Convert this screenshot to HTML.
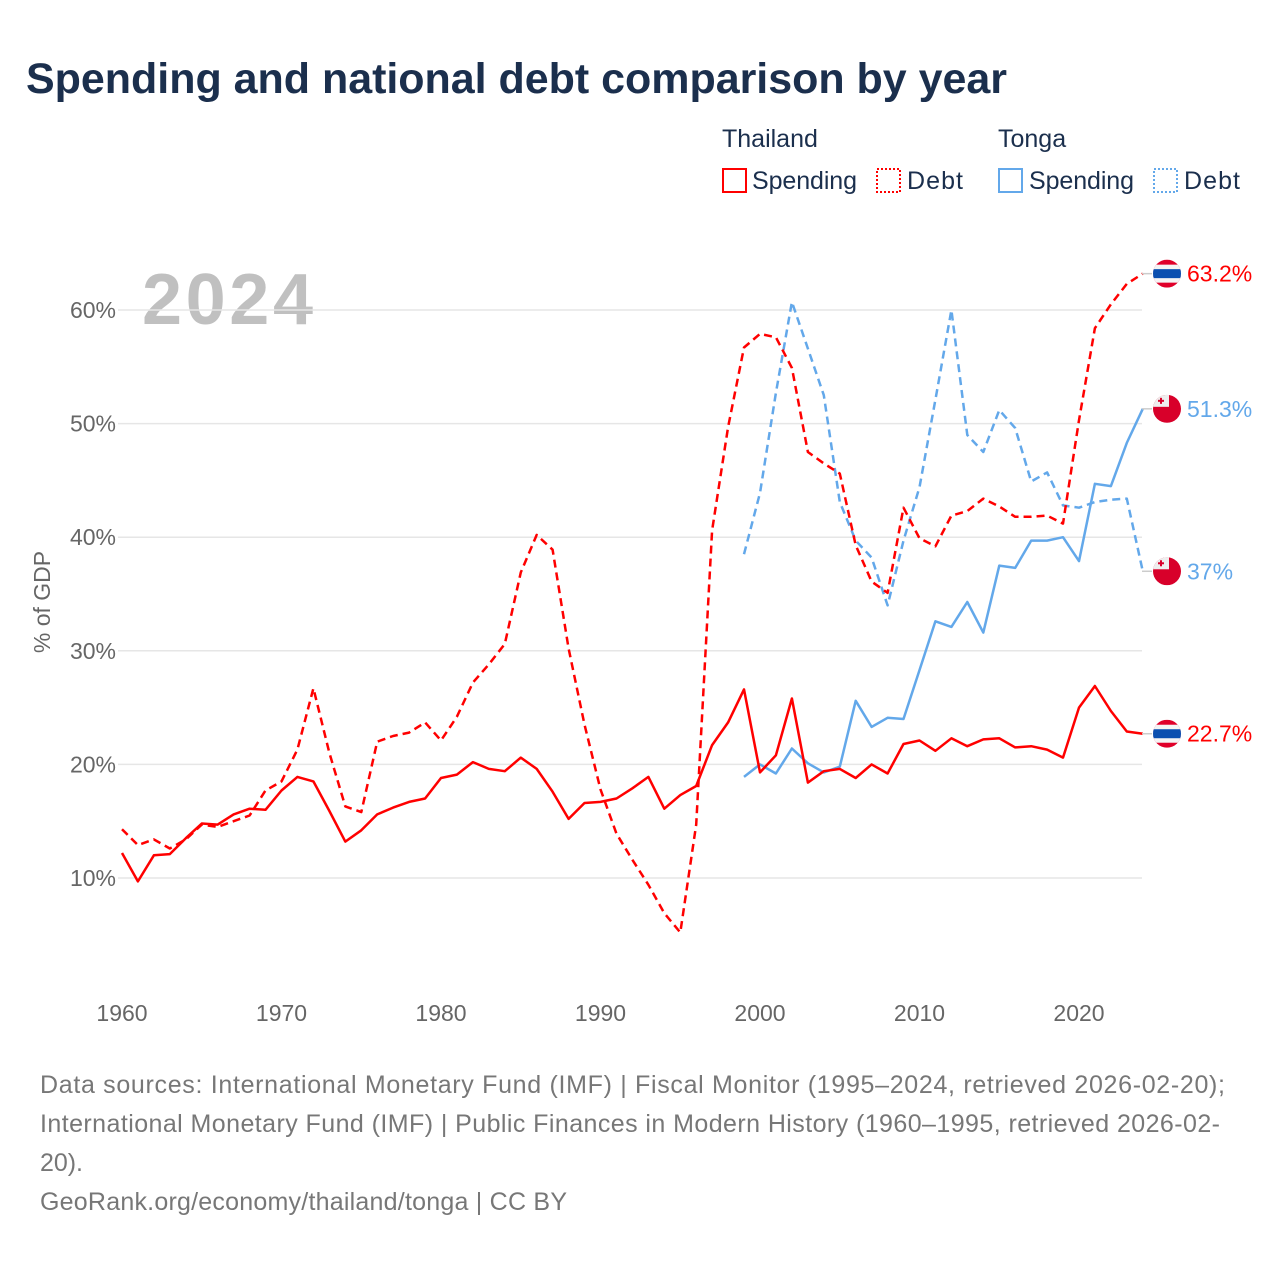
<!DOCTYPE html>
<html><head><meta charset="utf-8"><style>
body{margin:0;width:1280px;height:1280px;background:#fff;font-family:"Liberation Sans",sans-serif;overflow:hidden}
svg text{font-family:"Liberation Sans",sans-serif}
</style></head><body>
<svg id="chart" width="1280" height="1280" xmlns="http://www.w3.org/2000/svg">
<text x="26" y="93" font-size="43" font-weight="bold" fill="#1b2f4d" textLength="981">Spending and national debt comparison by year</text>
<g>
<text x="722" y="147" font-size="25" fill="#1b2f4d">Thailand</text>
<text x="998" y="147" font-size="25" fill="#1b2f4d">Tonga</text>
<rect x="723" y="169" width="23" height="23" fill="none" stroke="#ff0000" stroke-width="2"/>
<text x="752" y="189" font-size="25" fill="#1b2f4d" textLength="105">Spending</text>
<rect x="877" y="169" width="23" height="23" fill="none" stroke="#ff0000" stroke-width="2" stroke-dasharray="2,2"/>
<text x="907" y="189" font-size="25" fill="#1b2f4d" textLength="56">Debt</text>
<rect x="999" y="169" width="23" height="23" fill="none" stroke="#63a8ea" stroke-width="2"/>
<text x="1029" y="189" font-size="25" fill="#1b2f4d" textLength="105">Spending</text>
<rect x="1154" y="169" width="23" height="23" fill="none" stroke="#63a8ea" stroke-width="2" stroke-dasharray="2,2"/>
<text x="1184" y="189" font-size="25" fill="#1b2f4d" textLength="56">Debt</text>
</g>
<text x="142" y="324" font-size="72" font-weight="bold" fill="#c0c0c0" textLength="171">2024</text>
<text transform="translate(50,602) rotate(-90)" text-anchor="middle" font-size="23" fill="#666">% of GDP</text>
<g id="grid"></g><g id="series"></g><g id="labels"></g>
<g font-size="25" fill="#777">
<text x="40" y="1093" textLength="1185">Data sources: International Monetary Fund (IMF) | Fiscal Monitor (1995–2024, retrieved 2026-02-20);</text>
<text x="40" y="1132" textLength="1180">International Monetary Fund (IMF) | Public Finances in Modern History (1960–1995, retrieved 2026-02-</text>
<text x="40" y="1171" textLength="43">20).</text>
<text x="40" y="1210" textLength="527">GeoRank.org/economy/thailand/tonga | CC BY</text>
</g>
</svg>
<script>
const yTicks=[10,20,30,40,50,60];
const xTicks=[1960,1970,1980,1990,2000,2010,2020];
const thYears0=1960;
const thSpending=[12.2,9.7,12.0,12.1,13.5,14.8,14.7,15.6,16.1,16.0,17.7,18.9,18.5,15.9,13.2,14.2,15.6,16.2,16.7,17.0,18.8,19.1,20.2,19.6,19.4,20.6,19.6,17.6,15.2,16.6,16.7,17.0,17.9,18.9,16.1,17.3,18.1,21.7,23.7,26.6,19.3,20.8,25.8,18.4,19.4,19.6,18.8,20.0,19.2,21.8,22.1,21.2,22.3,21.6,22.2,22.3,21.5,21.6,21.3,20.6,25.0,26.9,24.7,22.9,22.7];
const thDebt=[14.3,12.9,13.4,12.6,13.4,14.7,14.5,15.0,15.5,17.7,18.5,21.3,26.7,21.0,16.3,15.8,22.0,22.5,22.8,23.7,22.1,24.2,27.2,28.8,30.6,36.9,40.2,38.9,30.2,23.5,17.8,13.9,11.6,9.4,6.9,5.2,14.7,40.6,49.7,56.7,57.9,57.6,54.9,47.5,46.5,45.6,39.3,36.1,35.1,42.6,39.9,39.2,41.9,42.3,43.4,42.7,41.8,41.8,41.9,41.2,50.3,58.4,60.5,62.3,63.2];
const toYears0=1999;
const toSpending=[18.9,20.0,19.2,21.4,20.1,19.3,19.8,25.6,23.3,24.1,24.0,28.3,32.6,32.1,34.3,31.6,37.5,37.3,39.7,39.7,40.0,37.9,44.7,44.5,48.3,51.3];
const toDebt=[38.5,43.9,52.7,60.7,56.6,52.5,43.1,39.7,38.2,34.0,39.7,44.4,52.1,60.0,49.0,47.5,51.2,49.6,44.9,45.7,42.8,42.6,43.1,43.3,43.4,37.0];
const endLabels=["63.2%","51.3%","37%","22.7%"];

const NS="http://www.w3.org/2000/svg";
const X=yr=>122+(yr-1960)*15.95;
const Y=v=>991.6-v*11.36;
function mk(tag,attrs,parent){const e=document.createElementNS(NS,tag);for(const k in attrs)e.setAttribute(k,attrs[k]);parent.appendChild(e);return e;}
const grid=document.getElementById('grid'),ser=document.getElementById('series'),lab=document.getElementById('labels');
yTicks.forEach(t=>{
 const l=mk('line',{x1:118,x2:1142,y1:Y(t),y2:Y(t),stroke:'#e6e6e6','stroke-width':1.5},grid);
 
 
 const tx=mk('text',{x:116,y:Y(t)+8,'text-anchor':'end','font-size':23,fill:'#666'},grid);
 tx.textContent=t+'%';
 
 
});
xTicks.forEach(t=>{
 const tx=mk('text',{x:X(t),y:1021,'text-anchor':'middle','font-size':23,fill:'#666'},grid);
 tx.textContent=t;
 
 
});
function line(vals,y0,color,dash,name){
 const d=vals.map((v,i)=>(i?'L':'M')+X(y0+i).toFixed(1)+','+Y(v).toFixed(1)).join('');
 const p=mk('path',{d:d,fill:'none',stroke:color,'stroke-width':2.5,'stroke-linejoin':'round'},ser);
 if(dash)p.setAttribute('stroke-dasharray','8,5');
 
 
}
line(toDebt,toYears0,'#63a8ea',true,'tonga-debt-line');
line(toSpending,toYears0,'#63a8ea',false,'tonga-spending-line');
line(thDebt,thYears0,'#ff0000',true,'thailand-debt-line');
line(thSpending,thYears0,'#ff0000',false,'thailand-spending-line');
const ends=[[thDebt,'#ff0000','th'],[toSpending,'#63a8ea','to'],[toDebt,'#63a8ea','to'],[thSpending,'#ff0000','th']];
ends.forEach((e,i)=>{
 const v=e[0][e[0].length-1],cy=Y(v),cx=1167;
 const g=mk('g',{},lab);
 
 
 mk('line',{x1:1142,x2:1152,y1:cy,y2:cy,stroke:'#ccc','stroke-width':1.5},g);
 const cid='c'+i;
 const cp=mk('clipPath',{id:cid},g);mk('circle',{cx:cx,cy:cy,r:14},cp);
 const fg=mk('g',{'clip-path':'url(#'+cid+')'},g);
 if(e[2]==='th'){
  mk('rect',{x:cx-14,y:cy-14,width:28,height:28,fill:'#e0002a'},fg);
  mk('rect',{x:cx-14,y:cy-9,width:28,height:18,fill:'#f4f4f4'},fg);
  mk('rect',{x:cx-14,y:cy-4.5,width:28,height:9,fill:'#0a4fb0'},fg);
 }else{
  mk('rect',{x:cx-14,y:cy-14,width:28,height:28,fill:'#d8002a'},fg);
  mk('rect',{x:cx-14,y:cy-14,width:16,height:12,fill:'#eee'},fg);
  mk('rect',{x:cx-7,y:cy-11,width:2,height:6,fill:'#d8002a'},fg);
  mk('rect',{x:cx-9,y:cy-9,width:6,height:2,fill:'#d8002a'},fg);
 }
 const t=mk('text',{x:1187,y:cy+8,'font-size':23,fill:e[1]},g);
 t.textContent=endLabels[i];
});
</script>
</body></html>
